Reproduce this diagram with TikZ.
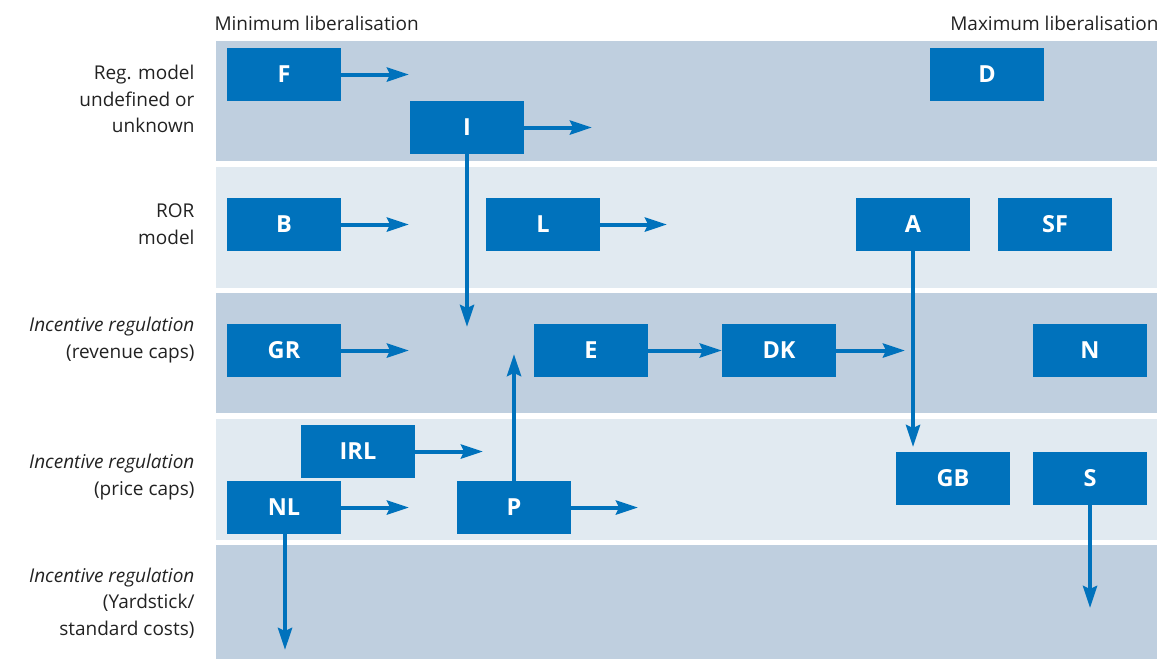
\documentclass[tikz,border=0pt]{standalone}
\usepackage{fontspec}
\setmainfont{Open Sans}
\usepackage{tikz}
\usetikzlibrary{arrows.meta}
\definecolor{boxblue}{HTML}{0072BC}
\definecolor{banddark}{HTML}{BFCFDF}
\definecolor{bandlight}{HTML}{E1EAF1}
\definecolor{labtext}{HTML}{222222}
\tikzset{
  cbox/.style={fill=boxblue, minimum width=114pt, minimum height=53pt, inner sep=0pt,
    text=white, font=\fontsize{23.5}{23.5}\selectfont\bfseries},
  flow/.style={draw=boxblue, line width=4pt,
    -{Stealth[length=22pt, width=14pt, inset=3pt]}},
  rowlab/.style={align=right, anchor=east, text=labtext,
    font=\fontsize{19}{26.5}\selectfont},
  toplab/.style={text=labtext, font=\fontsize{19}{19}\selectfont}
}
\begin{document}
\begin{tikzpicture}[x=1pt, y=-1pt]
  \useasboundingbox (0,0) rectangle (1157,659);

  % bands
  \fill[banddark]  (216,41)  rectangle (1157,161);
  \fill[bandlight] (216,167) rectangle (1157,288);
  \fill[banddark]  (216,293) rectangle (1157,413);
  \fill[bandlight] (216,419) rectangle (1157,540);
  \fill[banddark]  (216,545) rectangle (1157,659);

  \node[toplab, anchor=west] (minlib) at (211,23) {Minimum liberalisation};
  \node[toplab, anchor=east] (maxlib) at (1162,23) {Maximum liberalisation};

  \node[rowlab] (r1) at (198,99)  {Reg. model\\undefined or\\unknown};
  \node[rowlab] (r2) at (198,224) {ROR\\model};
  \node[rowlab] (r3) at (198,340) {\itshape Incentive regulation\\(revenue caps)};
  \node[rowlab] (r4) at (198,477) {\itshape Incentive regulation\\(price caps)};
  \node[rowlab] (r5) at (198,603) {\itshape Incentive regulation\\(Yardstick/\\standard costs)};

  % countries
  \node[cbox] (F)   at (284,74.5)   {F};
  \node[cbox] (I)   at (467,127.5)  {I};
  \node[cbox] (D)   at (987,74.5)   {D};
  \node[cbox] (B)   at (284,224.5)  {B};
  \node[cbox] (L)   at (543,224.5)  {L};
  \node[cbox] (A)   at (913,224.5)  {A};
  \node[cbox] (SF)  at (1055,224.5) {SF};
  \node[cbox] (GR)  at (284,350.5)  {GR};
  \node[cbox] (E)   at (591,350.5)  {E};
  \node[cbox] (DK)  at (779,350.5)  {DK};
  \node[cbox] (N)   at (1090,350.5) {N};
  \node[cbox] (IRL) at (358,451.5)  {IRL};
  \node[cbox] (NL)  at (284,507.5)  {NL};
  \node[cbox] (P)   at (514,507.5)  {P};
  \node[cbox] (GB)  at (953,478.5)  {GB};
  \node[cbox] (S)   at (1090,478.5) {S};

  % free arrow ends
  \coordinate (Fto)   at (409,74.5);
  \coordinate (Ito)   at (592,127.5);
  \coordinate (Idn)   at (467,327);
  \coordinate (Bto)   at (409,224.5);
  \coordinate (Lto)   at (667,224.5);
  \coordinate (GRto)  at (409,350.5);
  \coordinate (DKto)  at (905,350.5);
  \coordinate (IRLto) at (483,451.5);
  \coordinate (NLto)  at (409,507.5);
  \coordinate (Pto)   at (638,507.5);
  \coordinate (Pup)   at (514,354);
  \coordinate (NLdn)  at (285,650);
  \coordinate (Sdn)   at (1090,608);
  \coordinate (Adn)   at (913,447);

  \draw[flow] (F.east) -- (Fto);
  \draw[flow] (I.east) -- (Ito);
  \draw[flow] (I.south) -- (Idn);
  \draw[flow] (B.east) -- (Bto);
  \draw[flow] (L.east) -- (Lto);
  \draw[flow] (A.south) -- (Adn);
  \draw[flow] (GR.east) -- (GRto);
  \draw[flow] (E.east) -- (DK.west);
  \draw[flow] (DK.east) -- (DKto);
  \draw[flow] (IRL.east) -- (IRLto);
  \draw[flow] (NL.east) -- (NLto);
  \draw[flow] (P.east) -- (Pto);
  \draw[flow] (P.north) -- (Pup);
  \draw[flow] (NL.south -| NLdn) -- (NLdn);
  \draw[flow] (S.south) -- (Sdn);
\end{tikzpicture}
\end{document}
